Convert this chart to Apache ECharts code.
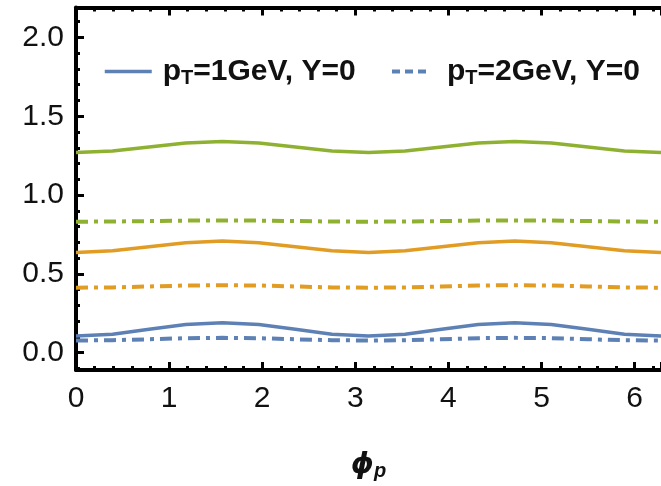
<!DOCTYPE html>
<html>
<head>
<meta charset="utf-8">
<script src="https://cdn.jsdelivr.net/npm/echarts@6/dist/echarts.min.js"></script>
<style>
html,body{margin:0;padding:0;background:#fff;}
#chart{width:661px;height:486px;}
</style>
</head>
<body>
<div id="chart"></div>
<script>
// phi sampled at k*pi/8, k = 0..16
var phi = [0, 0.3927, 0.7854, 1.1781, 1.5708, 1.9635, 2.3562, 2.7489, 3.1416, 3.5343, 3.9270, 4.3197, 4.7124, 5.1051, 5.4978, 5.8905, 6.2832];
var blueSolid   = [0.105, 0.117, 0.148, 0.178, 0.190, 0.178, 0.148, 0.117, 0.105, 0.117, 0.148, 0.178, 0.190, 0.178, 0.148, 0.117, 0.105];
var orangeSolid = [0.635, 0.646, 0.672, 0.697, 0.708, 0.697, 0.672, 0.646, 0.635, 0.646, 0.672, 0.697, 0.708, 0.697, 0.672, 0.646, 0.635];
var greenSolid  = [1.270, 1.280, 1.305, 1.330, 1.340, 1.330, 1.305, 1.280, 1.270, 1.280, 1.305, 1.330, 1.340, 1.330, 1.305, 1.280, 1.270];
var blueDash    = [0.077, 0.079, 0.085, 0.092, 0.094, 0.092, 0.085, 0.079, 0.077, 0.079, 0.085, 0.092, 0.094, 0.092, 0.085, 0.079, 0.077];
var orangeDash  = [0.412, 0.414, 0.420, 0.426, 0.428, 0.426, 0.420, 0.414, 0.412, 0.414, 0.420, 0.426, 0.428, 0.426, 0.420, 0.414, 0.412];
var greenDash   = [0.831, 0.832, 0.835, 0.838, 0.839, 0.838, 0.835, 0.832, 0.831, 0.832, 0.835, 0.838, 0.839, 0.838, 0.835, 0.832, 0.831];
var legendNames = ['pT=1GeV, Y=0', 'pT=2GeV, Y=0'];

var BLUE = '#5E81B5', ORANGE = '#E19C24', GREEN = '#8FB131';
var FONT = '"Liberation Sans", Arial, sans-serif';
var DASH = [12, 6, 4, 6];

function pairs(xs, ys) { return xs.map(function (x, i) { return [x, ys[i]]; }); }
function mk(name, ys, color, dashed) {
  return {
    type: 'line', name: name, data: pairs(phi, ys), showSymbol: false, symbol: 'none',
    smooth: false, animation: false, xAxisIndex: 0, yAxisIndex: 0,
    lineStyle: { color: color, width: dashed ? 4 : 3.5, type: dashed ? DASH : 'solid' },
    itemStyle: { color: color }
  };
}
var legRich = {
  a: { fontSize: 30, fontWeight: 'bold', fontFamily: FONT, color: '#111', lineHeight: 32 },
  b: { fontSize: 20, fontWeight: 'bold', fontFamily: FONT, color: '#111', lineHeight: 20, padding: [13, 0, 0, 0] }
};
function legFmt(name) { return '{a|p}{b|T}{a|' + name.slice(2) + '}'; }

var chart = echarts.init(document.getElementById('chart'), null, { renderer: 'canvas' });
var axisCommon = {
  axisLine: { show: true, onZero: false, lineStyle: { color: '#000', width: 4 } },
  axisTick: { show: true, inside: true, length: 8, lineStyle: { color: '#000', width: 3 } },
  minorTick: { show: true, splitNumber: 5, length: 4, lineStyle: { color: '#000', width: 3 } },
  splitLine: { show: false }
};
chart.setOption({
  animation: false,
  backgroundColor: '#fff',
  grid: { left: 76, right: -11, top: 7.5, bottom: 110, containLabel: false },
  legend: [
    { data: [{ name: legendNames[0] }], left: 98, top: 50, itemWidth: 47, itemHeight: 14, itemGap: 0,
      itemStyle: { opacity: 0 }, lineStyle: { width: 3.5 },
      formatter: legFmt, textStyle: { rich: legRich, padding: [0, 0, 0, 6] }, selectedMode: false },
    { data: [{ name: legendNames[1] }], left: 385, top: 50, itemWidth: 38, itemHeight: 14, itemGap: 0,
      itemStyle: { opacity: 0 }, lineStyle: { width: 4, type: [8, 5] },
      formatter: legFmt, textStyle: { rich: legRich, padding: [0, 0, 0, 12] }, selectedMode: false }
  ],
  xAxis: [
    Object.assign({}, axisCommon, {
      type: 'value', position: 'bottom', min: 0, max: 6.2832, minInterval: 1, maxInterval: 1,
      axisLabel: { show: true, fontSize: 30, fontFamily: FONT, color: '#111', margin: 14, showMaxLabel: false },
      name: '{a|ϕ}{b|p}', nameLocation: 'middle', nameGap: 80,
      nameTextStyle: { rich: {
        a: { fontSize: 29, fontWeight: 'bold', fontStyle: 'italic', fontFamily: '"DejaVu Sans", sans-serif', color: '#111', lineHeight: 30 },
        b: { fontSize: 20, fontWeight: 'bold', fontStyle: 'italic', fontFamily: FONT, color: '#111', lineHeight: 20, padding: [12, 0, 0, 0] }
      } }
    }),
    Object.assign({}, axisCommon, {
      type: 'value', position: 'top', min: 0, max: 6.2832, minInterval: 1, maxInterval: 1,
      axisLabel: { show: false }
    })
  ],
  yAxis: [
    Object.assign({}, axisCommon, {
      type: 'value', position: 'left', min: -0.11, max: 2.19, minInterval: 0.5, maxInterval: 0.5,
      axisLabel: { show: true, fontSize: 30, fontFamily: FONT, color: '#111', margin: 12,
        showMinLabel: false, showMaxLabel: false,
        formatter: function (v) { return v.toFixed(1); } }
    })
  ],
  series: [
    mk(legendNames[0], blueSolid, BLUE, false),
    mk('orange1', orangeSolid, ORANGE, false),
    mk('green1', greenSolid, GREEN, false),
    mk(legendNames[1], blueDash, BLUE, true),
    mk('orange2', orangeDash, ORANGE, true),
    mk('green2', greenDash, GREEN, true)
  ]
});
</script>
</body>
</html>
